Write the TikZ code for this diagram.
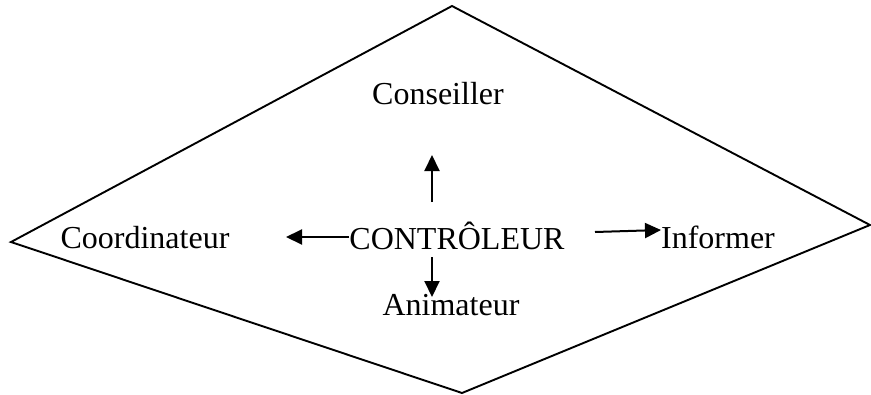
\documentclass[tikz,border=0pt]{standalone}
\usepackage{fontspec}
\setmainfont{Liberation Serif}
\usetikzlibrary{arrows.meta}

\begin{document}
\begin{tikzpicture}[x=1pt,y=-1pt,
  role/.style={anchor=base,inner sep=0pt,font=\fontsize{32}{38}\selectfont},
  arr/.style={line width=2pt,-{Triangle[length=16pt,width=15pt]}}]
\useasboundingbox (0,0) rectangle (871,394);
% the frame
\draw[line width=1.9pt] (452,6) -- (870,225) -- (462,393) -- (11,242) -- cycle;
% roles
\node[role] (ctrl) at (457,249) {CONTRÔLEUR};
\node[role] (cons) at (438,104) {Conseiller};
\node[role] (coord) at (145,248) {Coordinateur};
\node[role] (info) at (718,248) {Informer};
\node[role] (anim) at (451,315) {Animateur};
% arrow ends
\coordinate (up) at (432,155);
\coordinate (lt) at (286,237);
\coordinate (rt) at (661,230);
\coordinate (dn) at (432,297);
\draw[arr] (432,202) -- (up);
\draw[arr] (ctrl.west |- lt) -- (lt);
\draw[arr] (595,232) -- (rt);
\draw[arr] (432,257) -- (dn);
\end{tikzpicture}
\end{document}
